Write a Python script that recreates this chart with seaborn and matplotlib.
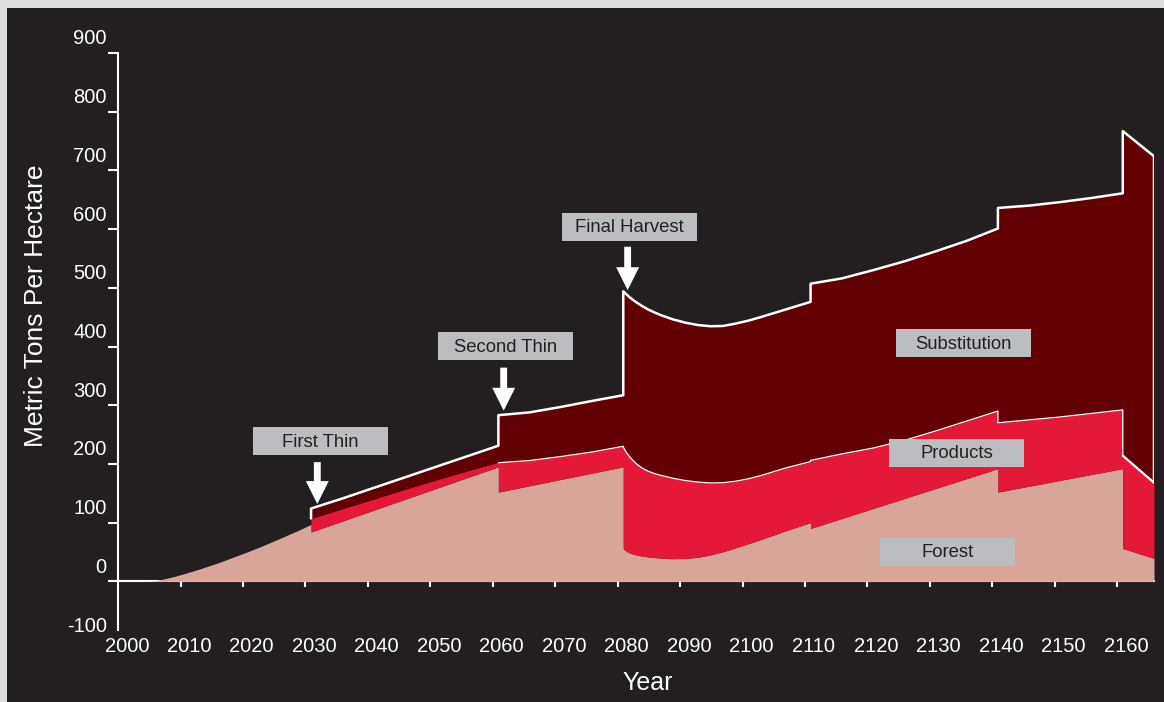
import numpy as np
import pandas as pd
import matplotlib
matplotlib.use("Agg")
import matplotlib.pyplot as plt
import matplotlib.transforms as mtransforms
from matplotlib.patches import Rectangle
from matplotlib.ticker import FixedLocator, FixedFormatter
import seaborn as sns

# ---------------- data (metric tons per hectare) ----------------
# duplicated years mark the instantaneous drops at thinning / harvest events
year = [1999, 2003, 2004, 2005, 2006, 2008, 2010, 2012, 2015, 2018, 2020, 2022, 2025, 2028, 2030,
        2030, 2035, 2040, 2045, 2050, 2055, 2060,
        2060, 2065, 2070, 2075, 2080,
        2080, 2080.25, 2080.5, 2081, 2081.5, 2082, 2083, 2084, 2085, 2086, 2088, 2090,
        2092, 2094, 2096, 2098, 2100, 2102, 2104, 2106, 2108, 2110,
        2110, 2115, 2120, 2125, 2130, 2135, 2140,
        2140, 2145, 2150, 2155, 2160,
        2160, 2165]

forest = [0, 0, 0.3, 1, 3, 8, 14, 20.5, 31, 43, 51, 59.5, 73, 87, 97,
          84, 102.5, 121, 139.5, 158, 176.5, 195,
          152, 162.75, 173.5, 184.25, 195,
          56, 53, 51, 48.5, 46.5, 45, 43, 41.5, 40.5, 39.5, 38.5, 39,
          41, 45, 50.5, 57, 64, 71, 78.5, 86, 93, 100,
          90, 107, 124, 141, 158, 175, 192,
          152, 162, 172, 182, 192,
          56, 39]

products = [0, 0, 0, 0, 0, 0, 0, 0, 0, 0, 0, 0, 0, 0, 0,
            23, 21, 19, 17, 14.5, 11.5, 8,
            50, 43, 39, 36, 35,
            173, 171, 168.5, 164, 160, 156, 150, 146, 143, 141, 137, 132.5,
            128, 122.5, 117.5, 113.5, 110.5, 109, 108, 107, 105.5, 104,
            116, 110, 103, 99, 98, 98, 98,
            118, 113, 108, 104, 100,
            158, 129]

substitution = [0, 0, 0, 0, 0, 0, 0, 0, 0, 0, 0, 0, 0, 0, 0,
                17, 17.5, 19, 20.5, 22.5, 25, 28,
                81, 82, 84.5, 87, 87,
                265, 267.5, 269.5, 271.5, 273.5, 275, 276, 275.5, 274.5, 273, 270.5, 269,
                267.5, 267, 267, 268.5, 269.5, 270, 270, 270, 271, 272,
                301, 299, 303, 305, 306, 307, 311,
                366, 365, 366, 367, 369,
                553, 556]

FIRST_THIN = 15      # index where the stacked products/substitution begin
SECOND_THIN = 22     # index after the second thin

x_tick_years = [2000, 2010, 2020, 2030, 2040, 2050, 2060, 2070, 2080,
                2090, 2100, 2110, 2120, 2130, 2140, 2150, 2160]
y_tick_values = [-100, 0, 100, 200, 300, 400, 500, 600, 700, 800, 900]

# annotations: (text, centre year, centre value)
event_labels = ["First Thin", "Second Thin", "Final Harvest"]
event_label_x = [2031.5, 2061.1, 2081.0]
event_label_y = [239, 401, 604]
arrow_x = [2031.0, 2060.85, 2080.7]
arrow_top = [203, 364, 570]
arrow_tip = [131.7, 290.6, 496]

layer_labels = ["Substitution", "Products", "Forest"]
layer_label_x = [2134.5, 2133.4, 2131.9]
layer_label_y = [406, 219, 50.4]

# ---------------- style ----------------
BG = "#231f20"
FRAME = "#dcdddf"
PINK = "#d8a59b"
RED = "#e41937"
MAROON = "#620005"
BOX = "#bcbdc0"
BOXTXT = "#231f20"

sns.set_theme(style="dark")
plt.rcParams["font.family"] = ["Liberation Sans", "DejaVu Sans"]

fig = plt.figure(figsize=(11.64, 7.02), dpi=100, facecolor=FRAME)
fig.patches.append(Rectangle((7 / 1164, 0), 1, 694 / 702, transform=fig.transFigure,
                             facecolor=BG, edgecolor="none", zorder=-10))

ax = fig.add_axes([117.5 / 1164, 1 - 640 / 702, (1154 - 117.5) / 1164, (640 - 53) / 702])
ax.set_facecolor("none")

x = np.array(year, dtype=float)
f = np.array(forest, dtype=float)
p = f + np.array(products, dtype=float)
t = p + np.array(substitution, dtype=float)

ax.fill_between(x, 0, f, color=PINK, lw=0, zorder=1)
ax.fill_between(x, f, p, color=RED, lw=0, zorder=2)
ax.fill_between(x, p, t, color=MAROON, lw=0, zorder=3)

# thin white line along the products boundary (after the second thin)
prod_df = pd.DataFrame({"year": x[SECOND_THIN:], "value": p[SECOND_THIN:]})
sns.lineplot(data=prod_df, x="year", y="value", sort=False, estimator=None,
             color="white", lw=0.9, ax=ax, zorder=4)

# white outline of the total
outline_df = pd.DataFrame({
    "year": np.concatenate([[x[FIRST_THIN]], x[FIRST_THIN:], [x[-1]]]),
    "value": np.concatenate([[p[FIRST_THIN]], t[FIRST_THIN:], [p[-1]]]),
})
sns.lineplot(data=outline_df, x="year", y="value", sort=False, estimator=None,
             color="white", lw=1.8, ax=ax, zorder=5)
edge_df = pd.DataFrame({"year": x[-2:], "value": p[-2:]})
sns.lineplot(data=edge_df, x="year", y="value", sort=False, estimator=None,
             color="white", lw=1.6, ax=ax, zorder=5)

ax.set_xlabel("")
ax.set_ylabel("")
ax.set_xlim(1999, 2165)
ax.set_ylim(-100, 900)
ax.grid(False)

for side in ["top", "right", "bottom"]:
    ax.spines[side].set_visible(False)
ax.spines["left"].set_color("white")
ax.spines["left"].set_linewidth(1.5)
ax.spines["left"].set_bounds(-83, 900)

# y ticks
ax.yaxis.set_major_locator(FixedLocator(y_tick_values))
ax.yaxis.set_major_formatter(FixedFormatter([str(v) for v in y_tick_values]))
ax.tick_params(axis="y", which="major", left=True, direction="out", length=7.2, width=1.5,
               color="white", pad=0.5, labelsize=14.5, labelcolor="white")

# x tick labels (at the bottom of the axes)
ax.xaxis.set_major_locator(FixedLocator([v + 0.5 for v in x_tick_years]))
ax.xaxis.set_major_formatter(FixedFormatter([str(v) for v in x_tick_years]))
ax.tick_params(axis="x", which="major", bottom=True, length=0, pad=-2.3,
               labelsize=14.5, labelcolor="white")

# x axis line and tick marks at y = 0
sec = ax.secondary_xaxis(0.1)
sec.set_xticks([v - 0.9 for v in x_tick_years[1:]])
sec.tick_params(axis="x", bottom=True, direction="out", length=4.3, width=1.5,
                color="white", labelbottom=False)
sec.spines["bottom"].set_color("white")
sec.spines["bottom"].set_linewidth(1.5)
sec.patch.set_visible(False)

# shift y tick labels upward, hide the -100 tick mark
yticks = ax.yaxis.get_major_ticks()
yticks[0].tick1line.set_visible(False)
offset = mtransforms.ScaledTranslation(0, 0.16, fig.dpi_scale_trans)
for tk in yticks:
    tk.label1.set_transform(tk.label1.get_transform() + offset)

# label boxes
BW, BH = 21.6, 47.7
for txt, cx, cy in zip(event_labels + layer_labels, event_label_x + layer_label_x,
                       event_label_y + layer_label_y):
    ax.add_patch(Rectangle((cx - BW / 2, cy - BH / 2), BW, BH, facecolor=BOX,
                           edgecolor="none", zorder=6))
    ax.text(cx, cy - 2, txt, ha="center", va="center", fontsize=13.3, color=BOXTXT, zorder=7)

for ax_x, top, tip in zip(arrow_x, arrow_top, arrow_tip):
    ax.annotate("", xy=(ax_x, tip), xytext=(ax_x, top),
                arrowprops=dict(arrowstyle="simple,head_length=0.5,head_width=0.5,tail_width=0.15",
                                mutation_scale=33, fc="white", ec="none",
                                shrinkA=0, shrinkB=0), zorder=8)

fig.text(36 / 1164, 1 - 306 / 702, "Metric Tons Per Hectare", rotation=90,
         ha="center", va="center", fontsize=19, color="white")
fig.text(648 / 1164, 1 - 683 / 702, "Year", ha="center", va="center",
         fontsize=18, color="white")

fig.savefig("out.png", dpi=100, facecolor=FRAME)
